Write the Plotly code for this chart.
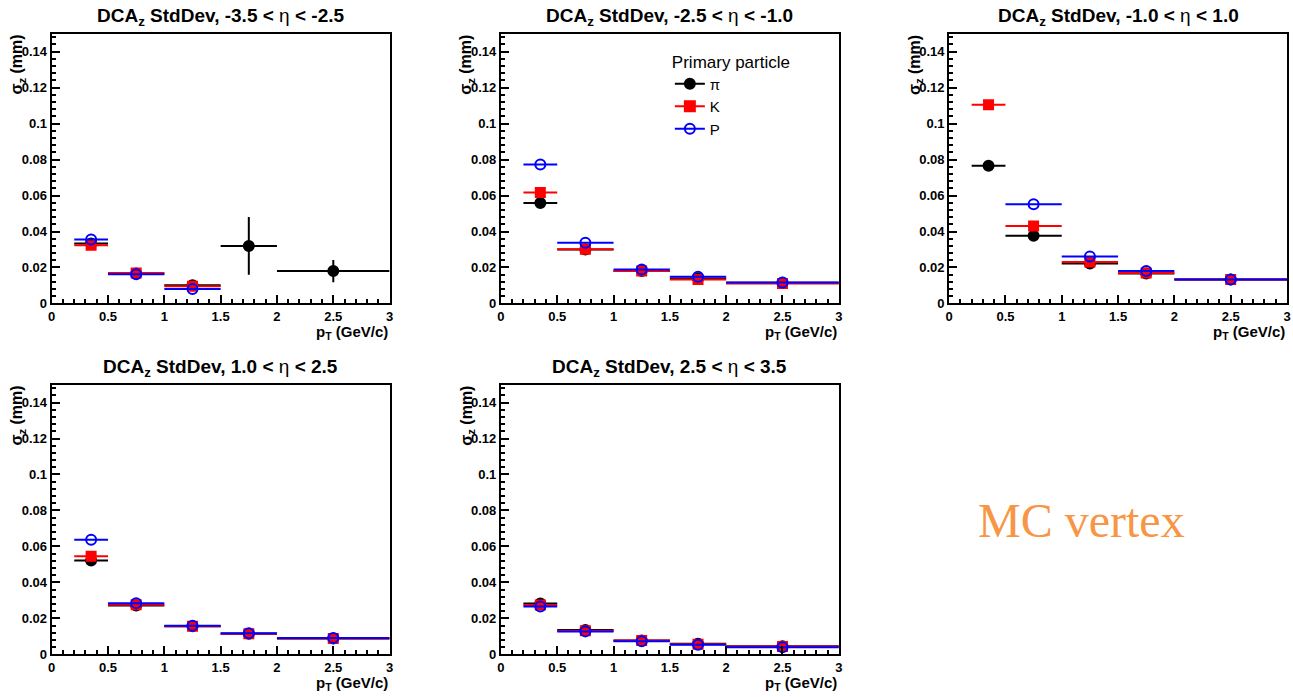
import plotly.graph_objects as go

# ---------------- data ----------------
bin_lo = [0.2, 0.5, 1.0, 1.5, 2.0]
bin_hi = [0.5, 1.0, 1.5, 2.0, 3.0]
bin_mark = [0.35, 0.75, 1.25, 1.75, 2.5]

eta_lower = ["-3.5 &lt; ", "-2.5 &lt; ", "-1.0 &lt; ", "1.0 &lt; ", "2.5 &lt; "]
eta_upper = [" &lt; -2.5", " &lt; -1.0", " &lt; 1.0", " &lt; 2.5", " &lt; 3.5"]

x_tickvals = [0, 0.5, 1, 1.5, 2, 2.5, 3]
x_ticktext = ["0", "0.5", "1", "1.5", "2", "2.5", "3"]
y_tickvals = [0, 0.02, 0.04, 0.06, 0.08, 0.10, 0.12, 0.14]
y_ticktext = ["0", "0.02", "0.04", "0.06", "0.08", "0.1", "0.12", "0.14"]

pi_vals = [
    [0.0333, 0.0167, 0.0102, 0.0320, 0.0180],
    [0.0559, 0.0300, 0.0181, 0.0139, 0.0115],
    [0.0765, 0.0376, 0.0222, 0.0167, 0.0133],
    [0.0522, 0.0272, 0.0156, 0.0115, 0.0089],
    [0.0283, 0.0136, 0.0077, 0.0059, 0.0046],
]
pi_errs = [
    [0.0, 0.0, 0.0, 0.016, 0.0062],
    [0, 0, 0, 0, 0],
    [0, 0, 0, 0, 0],
    [0, 0, 0, 0, 0],
    [0, 0, 0, 0, 0],
]
k_vals = [
    [0.0324, 0.0170, 0.0096, None, None],
    [0.0617, 0.0302, 0.0181, 0.0133, 0.0111],
    [0.1105, 0.0430, 0.0231, 0.0170, 0.0133],
    [0.0546, 0.0276, 0.0157, 0.0115, 0.0089],
    [0.0275, 0.0132, 0.0077, 0.0057, 0.0044],
]
p_vals = [
    [0.0356, 0.0162, 0.0080, None, None],
    [0.0772, 0.0337, 0.0189, 0.0148, 0.0117],
    [None, 0.0552, 0.0261, 0.0180, 0.0133],
    [0.0637, 0.0285, 0.0159, 0.0117, 0.0091],
    [0.0266, 0.0128, 0.0073, 0.0053, 0.0040],
]

species = [
    ("π", "black", "circle", pi_vals),
    ("K", "#ff0000", "square", k_vals),
    ("P", "#0000ff", "circle-open", p_vals),
]

# ---------------- layout geometry ----------------
W, H = 1293, 697
x_doms = [(48, 388), (500, 840), (951, 1291), (48, 388), (500, 840)]
y_doms = [(34, 307), (34, 307), (34, 307), (389, 662), (389, 662)]

ex_plus = [hi - c for hi, c in zip(bin_hi, bin_mark)]
ex_minus = [c - lo for lo, c in zip(bin_lo, bin_mark)]

fig = go.Figure()
FONT = "Liberation Sans, Arial, Helvetica, sans-serif"

for i in range(5):
    xa = "x" if i == 0 else f"x{i+1}"
    ya = "y" if i == 0 else f"y{i+1}"
    for name, col, sym, vals in species:
        err_y = pi_errs[i] if name == "π" else [0] * 5
        fig.add_trace(go.Scatter(
            x=bin_mark, y=vals[i], mode="markers", xaxis=xa, yaxis=ya,
            showlegend=False,
            marker=dict(color=col, symbol=sym, size=10 if sym != "square" else 9,
                        line=dict(color=col, width=2)),
            error_x=dict(type="data", symmetric=False, array=ex_plus, arrayminus=ex_minus,
                         color=col, thickness=2, width=0),
            error_y=dict(type="data", array=err_y, color=col, thickness=2, width=0),
        ))

# legend-only entries
for name, col, sym, vals in species:
    fig.add_trace(go.Scatter(
        x=[None], y=[None], mode="lines+markers", name=name, xaxis="x2", yaxis="y2",
        marker=dict(color=col, symbol=sym, size=10, line=dict(color=col, width=2)),
        line=dict(color=col, width=2),
    ))

layout = dict(
    width=W, height=H, margin=dict(l=0, r=0, t=0, b=0),
    paper_bgcolor="white", plot_bgcolor="white",
    font=dict(family=FONT, color="black"),
    legend=dict(
        x=670 / W, y=1 - 46 / H, xanchor="left", yanchor="top",
        bgcolor="rgba(0,0,0,0)", font=dict(size=15, family=FONT),
        title=dict(text="Primary particle", font=dict(size=17, family=FONT)),
        itemwidth=30, tracegroupgap=0,
    ),
)

annotations = []
for i in range(5):
    xd = (x_doms[i][0] / W, x_doms[i][1] / W)
    yd = (1 - y_doms[i][1] / H, 1 - y_doms[i][0] / H)
    xkey = "xaxis" if i == 0 else f"xaxis{i+1}"
    ykey = "yaxis" if i == 0 else f"yaxis{i+1}"
    yname = "y" if i == 0 else f"y{i+1}"
    xname = "x" if i == 0 else f"x{i+1}"
    layout[xkey] = dict(
        domain=xd, range=[0, 3], anchor=yname,
        showgrid=False, zeroline=False, showline=True, mirror=True,
        linecolor="black", linewidth=2,
        ticks="inside", ticklen=8, tickwidth=1.5, tickcolor="black",
        tickmode="array", tickvals=x_tickvals,
        ticktext=["<b>" + t + "</b>" for t in x_ticktext],
        minor=dict(ticks="inside", ticklen=4, tick0=0, dtick=0.1, tickcolor="black", tickwidth=1.5),
        tickfont=dict(size=13, family=FONT),
    )
    layout[ykey] = dict(
        domain=yd, range=[0, 0.15], anchor=xname,
        showgrid=False, zeroline=False, showline=True, mirror=True,
        linecolor="black", linewidth=2,
        ticks="inside", ticklen=8, tickwidth=1.5, tickcolor="black",
        tickmode="array", tickvals=y_tickvals,
        ticktext=["<b>" + t + "</b>" for t in y_ticktext],
        minor=dict(ticks="inside", ticklen=4, tick0=0, dtick=0.004, tickcolor="black", tickwidth=1.5),
        tickfont=dict(size=13, family=FONT),
    )
    cx = (x_doms[i][0] + x_doms[i][1]) / 2
    ty = y_doms[i][0] - 17
    annotations.append(dict(
        text="<b>DCA<sub>z</sub> StdDev, " + eta_lower[i] + "</b>η<b>" + eta_upper[i] + "</b>",
        x=cx / W, y=1 - ty / H, xref="paper", yref="paper",
        xanchor="center", yanchor="middle", showarrow=False,
        font=dict(size=19, family=FONT, color="black"),
    ))
    annotations.append(dict(
        text="<b>p<sub>T</sub> (GeV/c)</b>",
        x=x_doms[i][1] / W, y=1 - (y_doms[i][1] + 29) / H, xref="paper", yref="paper",
        xanchor="right", yanchor="middle", showarrow=False,
        font=dict(size=15, family=FONT, color="black"),
    ))
    annotations.append(dict(
        text="<b>σ<sub>z</sub> (mm)</b>",
        x=(x_doms[i][0] - 34) / W, y=1 - (y_doms[i][0] - 1) / H, xref="paper", yref="paper",
        xanchor="center", yanchor="top", showarrow=False, textangle=-90,
        font=dict(size=16, family=FONT, color="black"),
    ))

annotations.append(dict(
    text="MC vertex", x=1084 / W, y=1 - 527 / H, xref="paper", yref="paper",
    xanchor="center", yanchor="middle", showarrow=False,
    font=dict(size=48, family="Liberation Serif, Times New Roman, serif", color="#F79646"),
))
layout["annotations"] = annotations

fig.update_layout(**layout)
fig.write_html("out.html")
